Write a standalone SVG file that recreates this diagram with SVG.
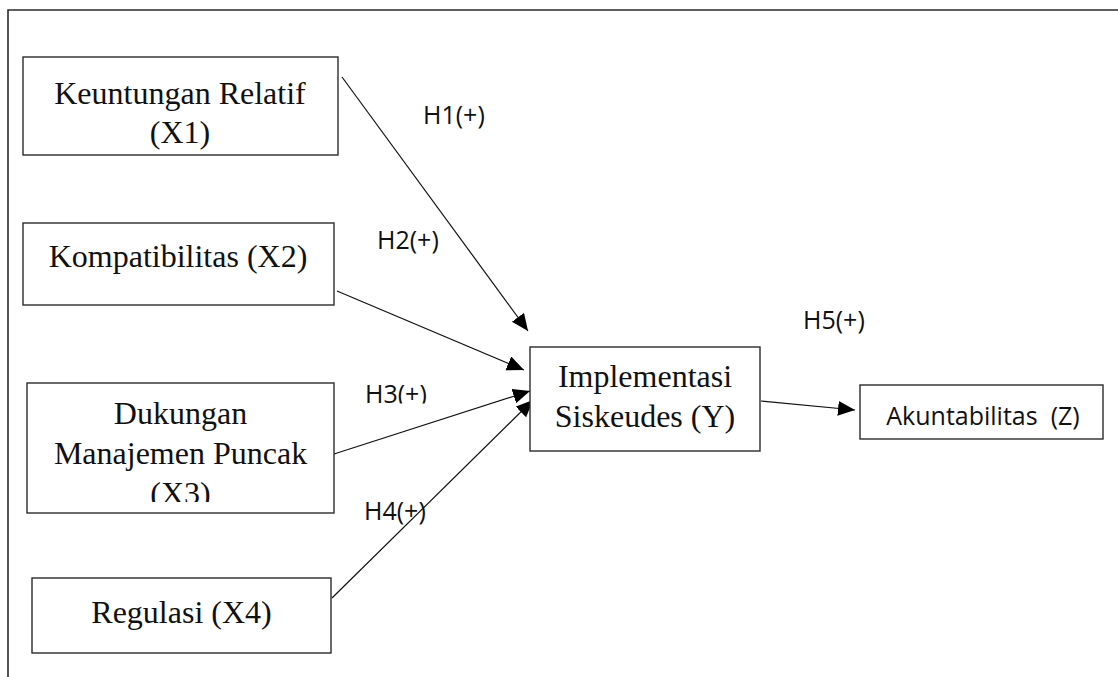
<svg xmlns="http://www.w3.org/2000/svg" width="1118" height="677" viewBox="0 0 1118 677">
  <style>
    .box { fill: #ffffff; stroke: #2b2b2b; stroke-width: 1.4; }
    .frame { fill: none; stroke: #2b2b2b; stroke-width: 1.6; }
    .serif { font-family: "Liberation Serif", "Times New Roman", serif; font-size: 32px; fill: #111111; text-anchor: middle; }
    .sans { font-family: "Open Sans", "Noto Sans", sans-serif; font-size: 25px; fill: #111111; }
    .conn { stroke: #111111; stroke-width: 1.2; fill: none; marker-end: url(#arrow); }
  </style>
  <defs>
    <marker id="arrow" markerUnits="userSpaceOnUse" markerWidth="19" markerHeight="16" refX="17" refY="7.5" orient="auto">
      <path d="M0,0 L17,7.5 L0,15 Z" fill="#000000"/>
    </marker>
    <clipPath id="clipX3"><rect x="0" y="0" width="1118" height="502"/></clipPath>
    <clipPath id="clipH3"><rect x="0" y="0" width="1118" height="403.5"/></clipPath>
  </defs>
  <rect width="1118" height="677" fill="#ffffff"/>
  <path class="frame" d="M8,677 L8,10 L1118,10"/>

  <g id="connectors">
    <line class="conn" x1="342" y1="77" x2="528" y2="331"/>
    <line class="conn" x1="337" y1="291" x2="524" y2="370"/>
    <line class="conn" x1="334" y1="454" x2="530" y2="391"/>
    <line class="conn" x1="332" y1="598" x2="533" y2="400"/>
    <line class="conn" x1="761" y1="401" x2="855" y2="410"/>
  </g>

  <g id="labels">
    <text class="sans" x="423" y="124">H1(+)</text>
    <text class="sans" x="377" y="249">H2(+)</text>
    <text class="sans" x="365" y="403" clip-path="url(#clipH3)">H3(+)</text>
    <text class="sans" x="364" y="520">H4(+)</text>
    <text class="sans" x="803" y="329">H5(+)</text>
  </g>

  <g id="node-x1">
    <rect class="box" x="23" y="57" width="315" height="98"/>
    <text class="serif" x="180" y="104">Keuntungan Relatif</text>
    <text class="serif" x="180" y="143">(X1)</text>
  </g>
  <g id="node-x2">
    <rect class="box" x="23" y="223" width="311" height="82"/>
    <text class="serif" x="178" y="267">Kompatibilitas (X2)</text>
  </g>
  <g id="node-x3">
    <rect class="box" x="27" y="383" width="307" height="130"/>
    <text class="serif" x="180.5" y="424">Dukungan</text>
    <text class="serif" x="180.5" y="464">Manajemen Puncak</text>
    <text class="serif" x="180.5" y="504" clip-path="url(#clipX3)">(X3)</text>
  </g>
  <g id="node-x4">
    <rect class="box" x="32" y="578" width="299" height="75"/>
    <text class="serif" x="181.5" y="623">Regulasi (X4)</text>
  </g>
  <g id="node-y">
    <rect class="box" x="530" y="347" width="230" height="104"/>
    <text class="serif" x="645" y="387">Implementasi</text>
    <text class="serif" x="645" y="427">Siskeudes (Y)</text>
  </g>
  <g id="node-z">
    <rect class="box" x="860" y="385" width="243" height="54"/>
    <text class="sans" x="983" y="425" text-anchor="middle" style="white-space: pre">Akuntabilitas  (Z)</text>
  </g>
</svg>
